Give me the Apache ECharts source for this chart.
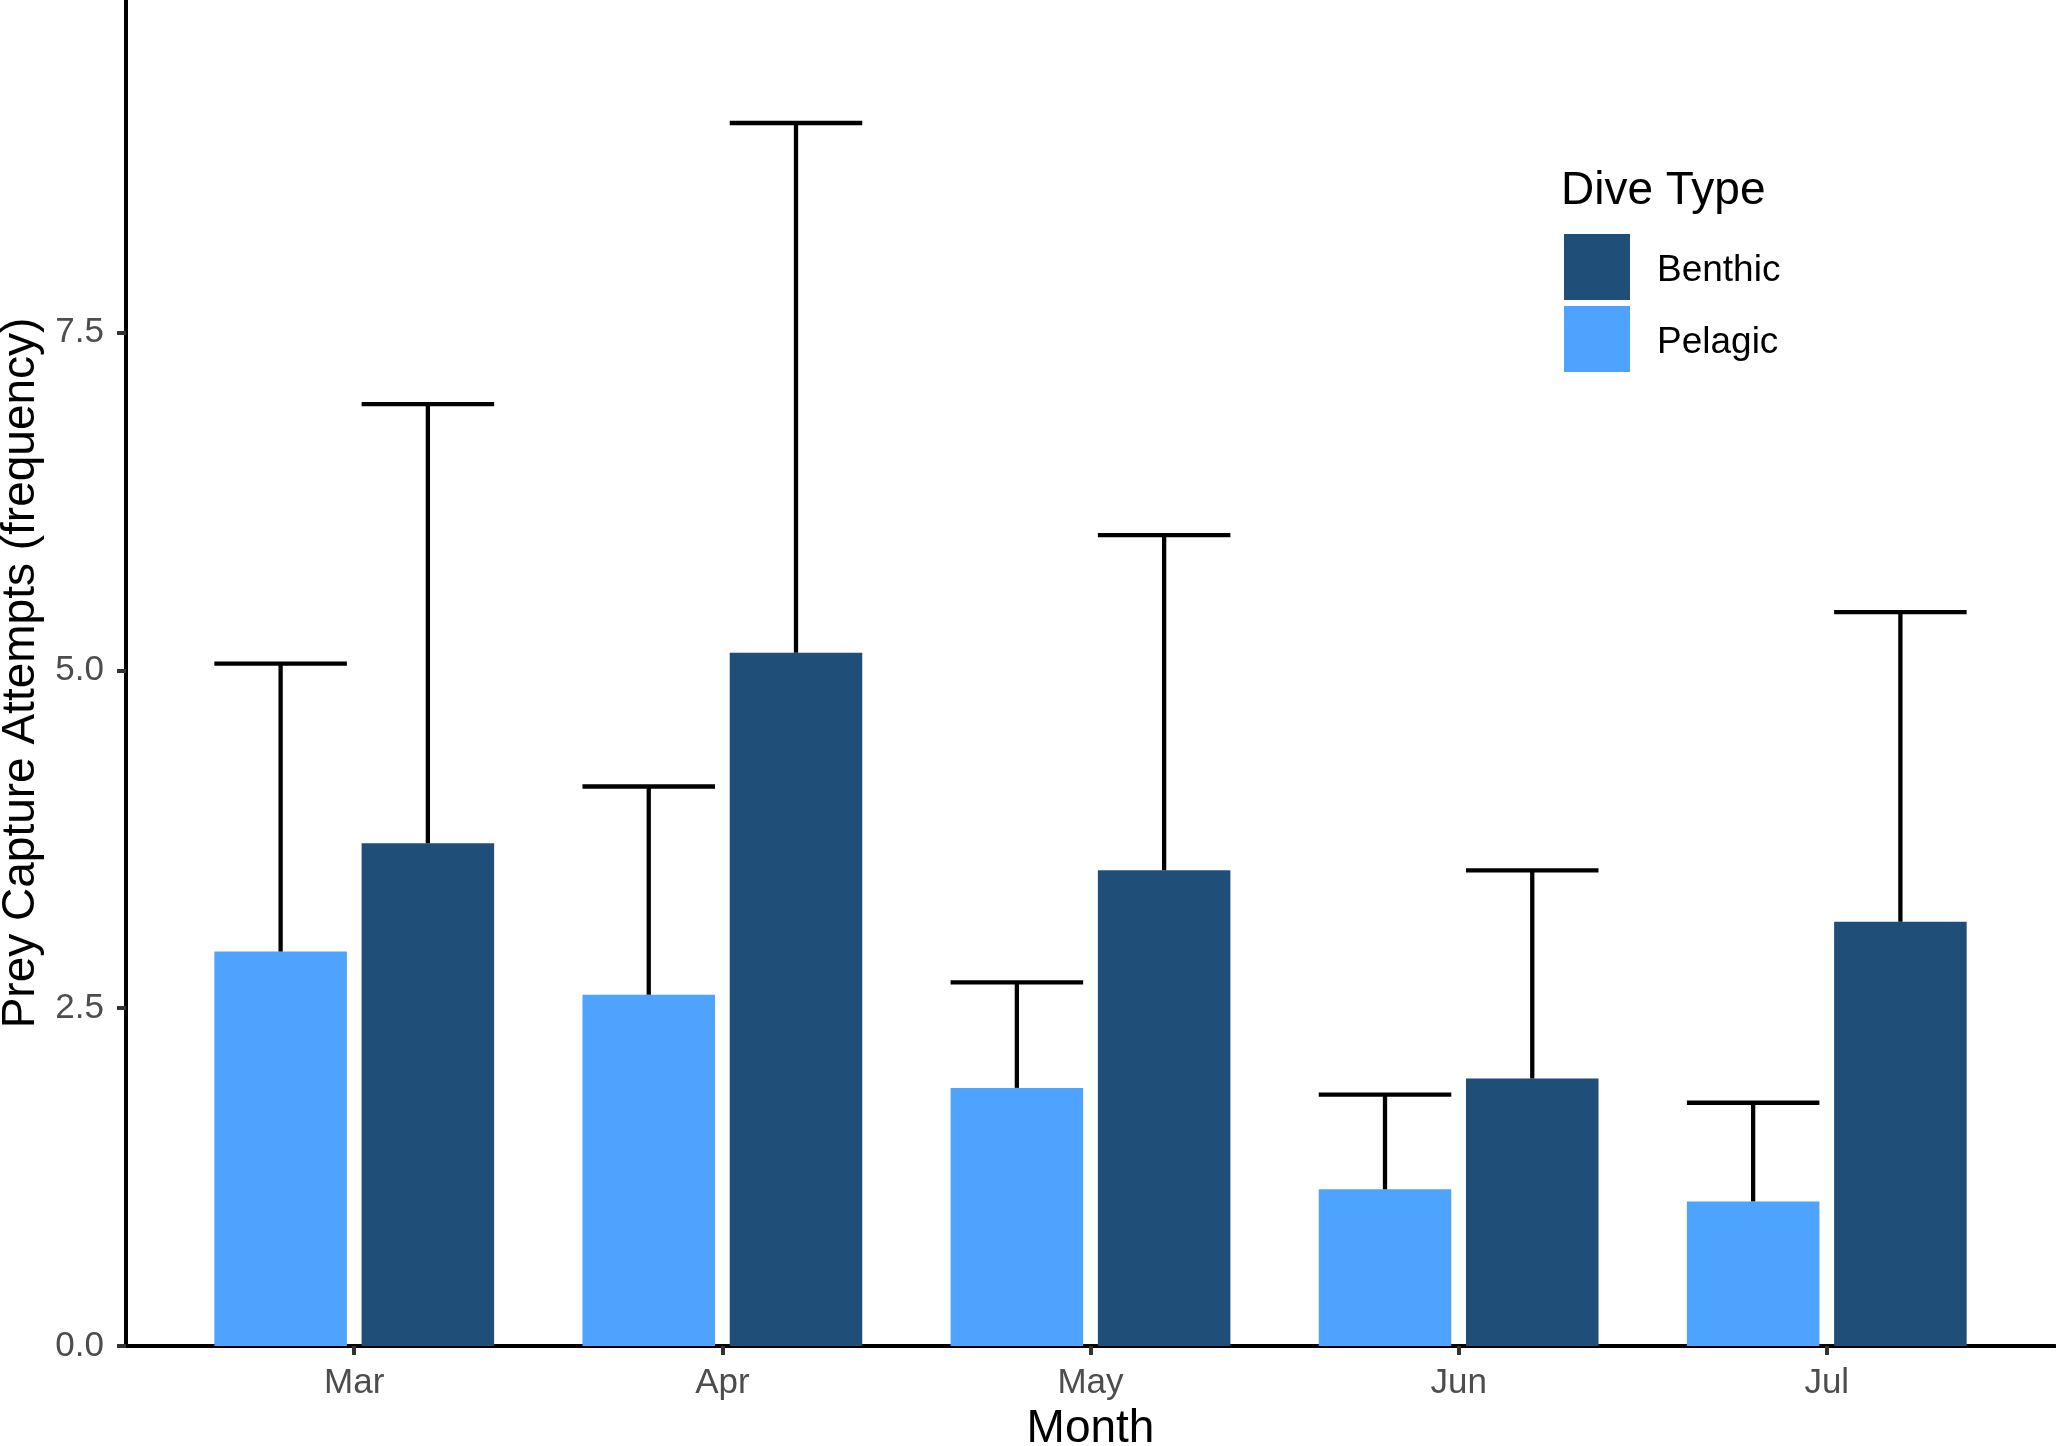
<!DOCTYPE html>
<html>
<head>
<meta charset="utf-8">
<script src="https://cdn.jsdelivr.net/npm/echarts@6/dist/echarts.min.js"></script>
<style>
html,body{margin:0;padding:0;background:#fff;}
#chart{width:2056px;height:1446px;}
</style>
</head>
<body>
<div id="chart"></div>
<script>
// ---- data ----
const months = ['Mar', 'Apr', 'May', 'Jun', 'Jul'];
const pelagicMean  = [2.92, 2.60, 1.91, 1.16, 1.07];
const pelagicUpper = [5.05, 4.14, 2.69, 1.86, 1.80];
const benthicMean  = [3.72, 5.13, 3.52, 1.98, 3.14];
const benthicUpper = [6.97, 9.05, 6.00, 3.52, 5.43];
const yTicks = [0, 2.5, 5, 7.5];

const seriesNames = ['Benthic', 'Pelagic'];
const colors = { Benthic: '#1F4E79', Pelagic: '#4EA3FF' };
const FONT = 'Liberation Sans, Arial, Helvetica, sans-serif';

const BAR_W = 0.36;   // in category units
const DODGE = 0.2;

function makeRender(offset, color) {
  return function (params, api) {
    const x = api.value(0) + offset;
    const mean = api.value(1);
    const up = api.value(2);
    const bl = api.coord([x - BAR_W / 2, 0]);
    const tr = api.coord([x + BAR_W / 2, mean]);
    const top = api.coord([x, up]);
    const mid = api.coord([x, mean]);
    const capL = api.coord([x - BAR_W / 2, up]);
    const capR = api.coord([x + BAR_W / 2, up]);
    return {
      type: 'group',
      children: [
        { type: 'rect', shape: { x: bl[0], y: tr[1], width: tr[0] - bl[0], height: bl[1] - tr[1] },
          style: { fill: color } },
        { type: 'line', shape: { x1: mid[0], y1: mid[1], x2: top[0], y2: top[1] },
          style: { stroke: '#000', lineWidth: 4.3 } },
        { type: 'line', shape: { x1: capL[0], y1: capL[1], x2: capR[0], y2: capR[1] },
          style: { stroke: '#000', lineWidth: 4.3 } }
      ]
    };
  };
}

const pelagicData = months.map((m, i) => [i + 1, pelagicMean[i], pelagicUpper[i]]);
const benthicData = months.map((m, i) => [i + 1, benthicMean[i], benthicUpper[i]]);

const chart = echarts.init(document.getElementById('chart'), null, { renderer: 'canvas' });
chart.setOption({
  animation: false,
  backgroundColor: '#fff',
  title: {
    text: 'Dive Type',
    left: 1561, top: 168,
    padding: 0,
    textStyle: { fontFamily: FONT, fontSize: 46, fontWeight: 'normal', color: '#000' }
  },
  legend: {
    data: seriesNames,
    orient: 'vertical',
    left: 1564, top: 234,
    padding: 0,
    itemWidth: 66, itemHeight: 66, itemGap: 6,
    icon: 'rect',
    formatter: name => '{t|' + name + '}',
    textStyle: {
      fontFamily: FONT, fontSize: 37, color: '#000',
      rich: { t: { fontFamily: FONT, fontSize: 37, color: '#000', padding: [8, 0, 0, 22] } }
    }
  },
  grid: { left: 126, right: 1, top: 0, bottom: 100, containLabel: false, outerBoundsMode: 'none' },
  xAxis: {
    type: 'value',
    min: 0.38, max: 5.62,
    name: 'Month',
    nameLocation: 'middle',
    nameGap: 60,
    nameTextStyle: { fontFamily: FONT, fontSize: 46, color: '#000' },
    axisLine: { show: true, onZero: false, lineStyle: { color: '#000', width: 4 } },
    axisTick: { show: true, customValues: [1, 2, 3, 4, 5], length: 9, lineStyle: { color: '#333', width: 4 } },
    axisLabel: {
      customValues: [1, 2, 3, 4, 5],
      formatter: v => months[Math.round(v) - 1] || '',
      margin: 20,
      fontFamily: FONT, fontSize: 35, color: '#4D4D4D'
    },
    splitLine: { show: false }
  },
  yAxis: {
    type: 'value',
    min: 0, max: 9.96,
    name: 'Prey Capture Attempts (frequency)',
    nameLocation: 'middle',
    nameGap: 80,
    nameTextStyle: { fontFamily: FONT, fontSize: 46, color: '#000' },
    axisLine: { show: true, onZero: false, lineStyle: { color: '#000', width: 4 } },
    axisTick: { show: true, customValues: yTicks, length: 9, lineStyle: { color: '#333', width: 4 } },
    axisLabel: {
      customValues: yTicks,
      formatter: v => Number(v).toFixed(1),
      margin: 22,
      fontFamily: FONT, fontSize: 35, color: '#4D4D4D'
    },
    splitLine: { show: false }
  },
  series: [
    {
      name: 'Pelagic', type: 'custom',
      itemStyle: { color: colors.Pelagic },
      renderItem: makeRender(-DODGE, colors.Pelagic),
      encode: { x: 0, y: [1, 2] },
      data: pelagicData, z: 2
    },
    {
      name: 'Benthic', type: 'custom',
      itemStyle: { color: colors.Benthic },
      renderItem: makeRender(DODGE, colors.Benthic),
      encode: { x: 0, y: [1, 2] },
      data: benthicData, z: 2
    }
  ]
});
</script>
</body>
</html>
